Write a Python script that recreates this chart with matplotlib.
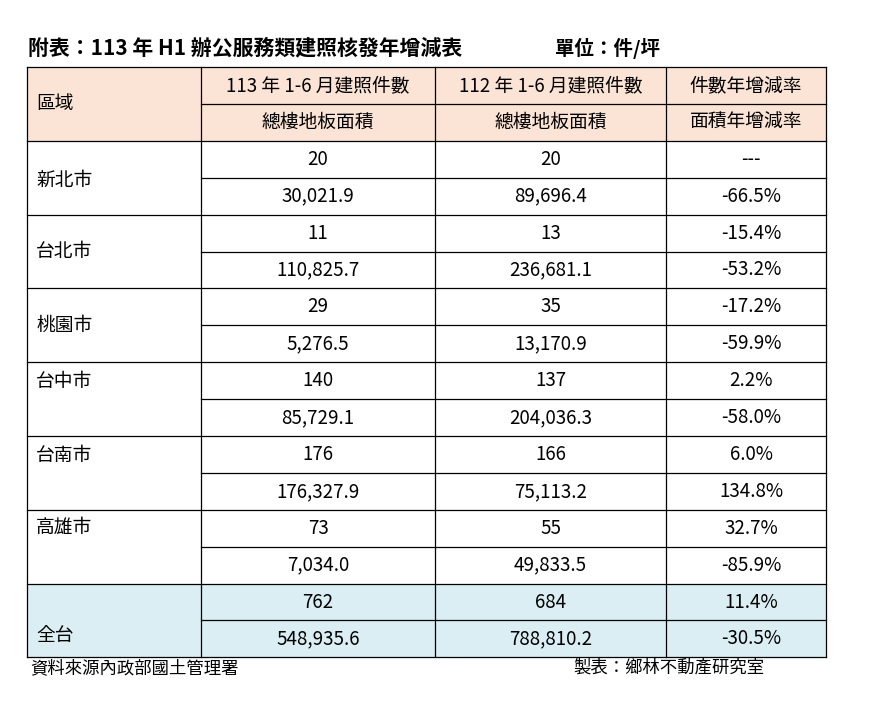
import matplotlib.pyplot as plt
from matplotlib.patches import Rectangle
from matplotlib import font_manager

names = {f.name for f in font_manager.fontManager.ttflist}
cjk = [n for n in ['Noto Sans CJK TC', 'Noto Sans CJK JP', 'Noto Sans CJK SC',
                   'Noto Sans CJK KR'] if n in names]
plt.rcParams['font.family'] = cjk + ['Noto Sans', 'DejaVu Sans']

title = '附表：113 年 H1 辦公服務類建照核發年增減表'
unit = '單位：件/坪'
source = '資料來源內政部國土管理署'
maker = '製表：鄉林不動產研究室'

header1 = ['113 年 1-6 月建照件數', '112 年 1-6 月建照件數', '件數年增減率']
header2 = ['總樓地板面積', '總樓地板面積', '面積年增減率']

regions = ['新北市', '台北市', '桃園市', '台中市', '台南市', '高雄市', '全台']
count_113 = ['20', '11', '29', '140', '176', '73', '762']
count_112 = ['20', '13', '35', '137', '166', '55', '684']
count_rate = ['---', '-15.4%', '-17.2%', '2.2%', '6.0%', '32.7%', '11.4%']
area_113 = ['30,021.9', '110,825.7', '5,276.5', '85,729.1', '176,327.9', '7,034.0', '548,935.6']
area_112 = ['89,696.4', '236,681.1', '13,170.9', '204,036.3', '75,113.2', '49,833.5', '788,810.2']
area_rate = ['-66.5%', '-53.2%', '-59.9%', '-58.0%', '134.8%', '-85.9%', '-30.5%']

# label vertical offset within the 2-row block (pixels from block top)
label_dy = [40, 37, 37, 19, 19, 18, 52]

W, H = 888, 719
fig = plt.figure(figsize=(W / 100, H / 100), dpi=100)
ax = fig.add_axes([0, 0, 1, 1])
ax.set_xlim(0, W)
ax.set_ylim(H, 0)
ax.axis('off')

xs = [27, 201, 435, 666, 826]
top = 67
rh = 36.9
lw = 0.9
fs = 13.5
peach = '#fbe4d5'
blue = '#daeef3'

ax.add_patch(Rectangle((xs[0], top), xs[-1] - xs[0], 2 * rh, color=peach, lw=0))
y_total = top + 2 * rh + 6 * 2 * rh
ax.add_patch(Rectangle((xs[0], y_total), xs[-1] - xs[0], 2 * rh, color=blue, lw=0))

# header
ax.text(36, top + rh, '區域', fontsize=fs, va='center', ha='left')
for j in range(3):
    cx = (xs[j + 1] + xs[j + 2]) / 2
    ax.text(cx, top + rh / 2, header1[j], fontsize=fs, ha='center', va='center')
    ax.text(cx, top + 1.5 * rh, header2[j], fontsize=fs, ha='center', va='center')
ax.plot([xs[1], xs[-1]], [top + rh] * 2, color='k', lw=lw)

for i, r in enumerate(regions):
    y0 = top + 2 * rh + i * 2 * rh
    ax.plot([xs[0], xs[-1]], [y0, y0], color='k', lw=lw)
    ax.plot([xs[1], xs[-1]], [y0 + rh] * 2, color='k', lw=lw)
    ax.text(36, y0 + label_dy[i], r, fontsize=fs, va='center', ha='left')
    row1 = [count_113[i], count_112[i], count_rate[i]]
    row2 = [area_113[i], area_112[i], area_rate[i]]
    for j in range(3):
        cx = (xs[j + 1] + xs[j + 2]) / 2
        if j == 2:
            cx += 5
        ax.text(cx, y0 + rh / 2, row1[j], fontsize=fs, ha='center', va='center')
        ax.text(cx, y0 + 1.5 * rh, row2[j], fontsize=fs, ha='center', va='center')

bottom = top + 2 * rh + 7 * 2 * rh
ax.plot([xs[0], xs[-1]], [top, top], color='k', lw=lw)
ax.plot([xs[0], xs[-1]], [bottom, bottom], color='k', lw=lw)
for x in xs:
    ax.plot([x, x], [top, bottom], color='k', lw=lw)

ax.text(28, 48, title, fontsize=15, fontweight='bold', va='center', ha='left')
ax.text(555, 48, unit, fontsize=14, fontweight='bold', va='center', ha='left')
ax.text(30, 668, source, fontsize=12.5, va='center', ha='left')
ax.text(573, 668, maker, fontsize=12.5, va='center', ha='left')

fig.savefig('out.png', dpi=100)
